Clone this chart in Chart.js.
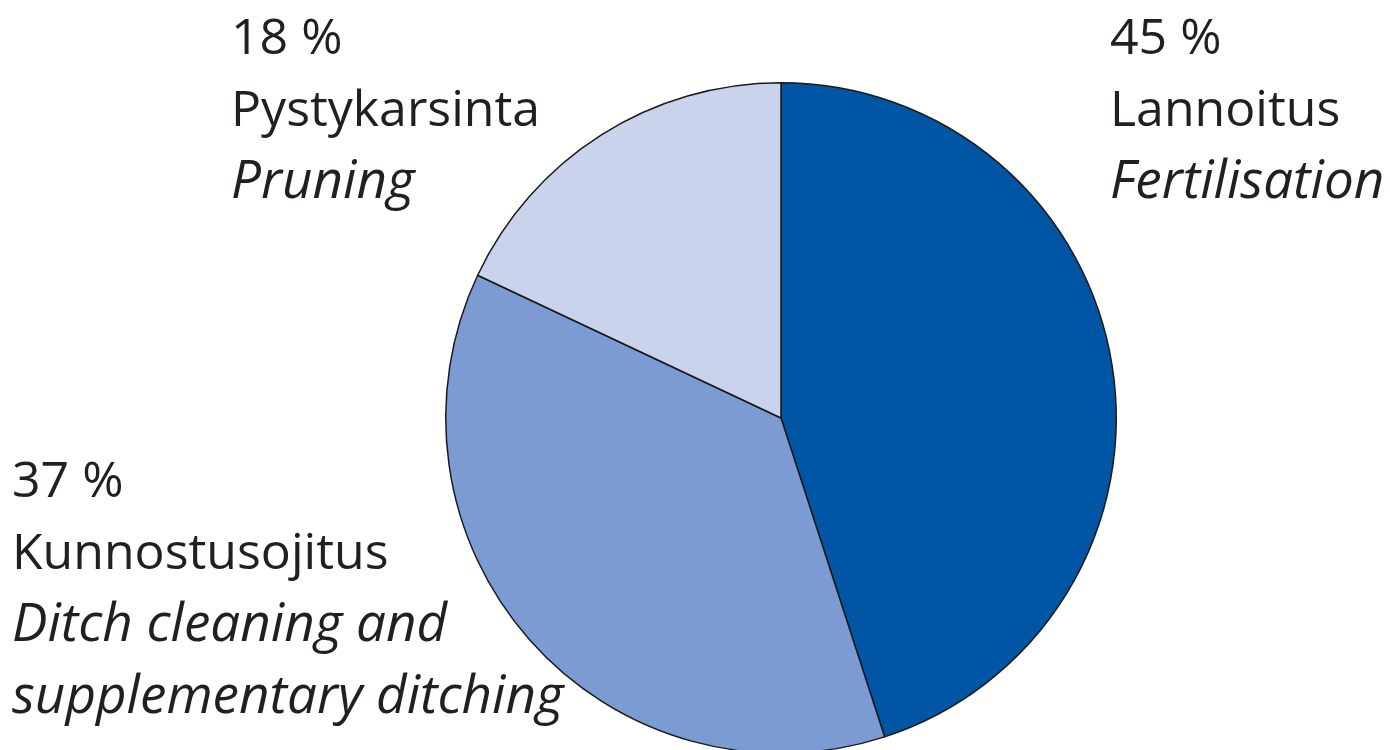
<!DOCTYPE html>
<html>
<head>
<meta charset="utf-8">
<script src="https://cdn.jsdelivr.net/npm/chart.js@4"></script>
<style>
  html, body { margin: 0; padding: 0; background: #fff; overflow: hidden; width: 1390px; height: 750px; }
  #wrap { position: relative; width: 1390px; height: 770px; }
</style>
</head>
<body>
<div id="wrap"><canvas id="myChart"></canvas></div>
<script>
document.addEventListener("DOMContentLoaded", function() {

    const categoriesFi = ["Lannoitus", "Kunnostusojitus", "Pystykarsinta"]
    const categoriesEn = [["Fertilisation"], ["Ditch cleaning and", "supplementary ditching"], ["Pruning"]]
    const shares = [45, 37, 18]
    const colors = ['#0055A5', '#7B9BD2', '#C9D3EC']

    // where each label block starts (left x, first baseline y)
    const labelPos = [[1110, 54], [12, 497], [231, 54]]
    const lineGap = 72
    const fontFamily = '"Open Sans", "Noto Sans", sans-serif'

    const labelPlugin = {
        id: 'sliceLabels',
        afterDraw(chart) {
            const ctx = chart.ctx
            ctx.save()
            ctx.fillStyle = '#231f20'
            ctx.textAlign = 'left'
            ctx.textBaseline = 'alphabetic'
            shares.forEach(function(v, i) {
                let x = labelPos[i][0]
                let y = labelPos[i][1]
                ctx.font = '50px ' + fontFamily
                ctx.fillText(v + ' %', x, y)
                y += lineGap
                ctx.fillText(categoriesFi[i], x, y)
                ctx.font = 'italic 53px ' + fontFamily
                categoriesEn[i].forEach(function(line) {
                    y += lineGap
                    ctx.fillText(line, x, y)
                })
            })
            ctx.restore()
        }
    }

    const data = {
        labels: categoriesFi,
        datasets: [{
            data: shares,
            backgroundColor: colors,
            borderColor: '#1a1a1a',
            borderWidth: 1.5
        }]
    };

    const config = {
        type: 'pie',
        data: data,
        options: {
            responsive: true,
            maintainAspectRatio: false,
            animation: false,
            layout: {
                padding: { left: 445, right: 273, top: 82, bottom: 16 }
            },
            plugins: {
                legend: { display: false },
                tooltip: { enabled: false }
            }
        },
        plugins: [labelPlugin]
    };

    var myChart = new Chart(
        document.getElementById('myChart'),
        config
    );

});
</script>
</body>
</html>
